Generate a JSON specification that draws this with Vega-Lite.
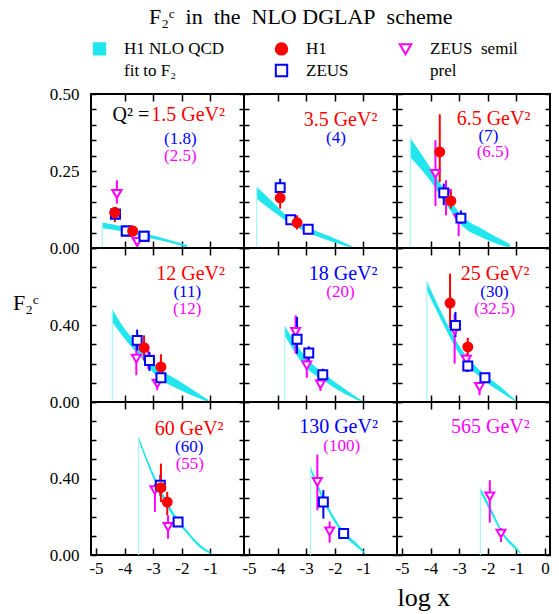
{
 "$schema": "https://vega.github.io/schema/vega-lite/v6.json",
 "padding": {"left": 11, "top": 6, "right": 2, "bottom": 2},
 "background": "white",
 "title": {"text": "F₂ᶜ\u00a0\u00a0in\u00a0\u00a0the\u00a0\u00a0NLO DGLAP\u00a0\u00a0scheme", "font": "Liberation Serif", "fontSize": 22, "fontWeight": "normal", "color": "black", "anchor": "start", "frame": "group", "dx": 58, "offset": 11},
 "datasets": {
  "band": [
   {"p":1,"x":-4.78,"lo":0.064,"hi":0.083},{"p":1,"x":-4.0,"lo":0.052,"hi":0.068},{"p":1,"x":-3.45,"lo":0.038,"hi":0.05},{"p":1,"x":-2.9,"lo":0.028,"hi":0.038},{"p":1,"x":-2.4,"lo":0.017,"hi":0.025},{"p":1,"x":-1.82,"lo":0.002,"hi":0.01},
   {"p":2,"x":-4.73,"lo":0.16,"hi":0.198},{"p":2,"x":-4.2,"lo":0.122,"hi":0.152},{"p":2,"x":-3.62,"lo":0.084,"hi":0.1},{"p":2,"x":-2.85,"lo":0.046,"hi":0.063},{"p":2,"x":-1.98,"lo":0.017,"hi":0.03},{"p":2,"x":-1.38,"lo":0.0,"hi":0.005},
   {"p":3,"x":-4.71,"lo":0.295,"hi":0.357},{"p":3,"x":-4.06,"lo":0.225,"hi":0.268},{"p":3,"x":-3.51,"lo":0.149,"hi":0.187},{"p":3,"x":-2.97,"lo":0.079,"hi":0.111},{"p":3,"x":-2.1,"lo":0.03,"hi":0.057},{"p":3,"x":-1.23,"lo":0.0,"hi":0.013},
   {"p":4,"x":-4.43,"lo":0.416,"hi":0.482},{"p":4,"x":-4.0,"lo":0.329,"hi":0.381},{"p":4,"x":-3.45,"lo":0.234,"hi":0.286},{"p":4,"x":-2.91,"lo":0.139,"hi":0.19},{"p":4,"x":-2.04,"lo":0.061,"hi":0.104},{"p":4,"x":-1.07,"lo":0.0,"hi":0.01},
   {"p":5,"x":-3.75,"lo":0.346,"hi":0.395},{"p":5,"x":-3.02,"lo":0.182,"hi":0.234},{"p":5,"x":-2.31,"lo":0.104,"hi":0.139},{"p":5,"x":-1.66,"lo":0.043,"hi":0.069},{"p":5,"x":-1.06,"lo":0.0,"hi":0.008},
   {"p":6,"x":-4.13,"lo":0.58,"hi":0.627},{"p":6,"x":-3.51,"lo":0.39,"hi":0.433},{"p":6,"x":-2.97,"lo":0.243,"hi":0.286},{"p":6,"x":-2.21,"lo":0.121,"hi":0.156},{"p":6,"x":-1.55,"lo":0.052,"hi":0.078},{"p":6,"x":-1.0,"lo":0.0,"hi":0.005},
   {"p":7,"x":-3.51,"lo":0.6,"hi":0.62},{"p":7,"x":-3.02,"lo":0.408,"hi":0.435},{"p":7,"x":-2.37,"lo":0.216,"hi":0.242},{"p":7,"x":-1.82,"lo":0.112,"hi":0.129},{"p":7,"x":-1.39,"lo":0.042,"hi":0.059},{"p":7,"x":-1.0,"lo":0.005,"hi":0.015},
   {"p":8,"x":-2.85,"lo":0.44,"hi":0.464},{"p":8,"x":-2.31,"lo":0.251,"hi":0.277},{"p":8,"x":-1.76,"lo":0.117,"hi":0.138},{"p":8,"x":-1.11,"lo":0.026,"hi":0.042},{"p":8,"x":-0.95,"lo":0.005,"hi":0.015},
   {"p":9,"x":-2.26,"lo":0.33,"hi":0.351},{"p":9,"x":-1.88,"lo":0.216,"hi":0.242},{"p":9,"x":-1.44,"lo":0.094,"hi":0.112},{"p":9,"x":-1.01,"lo":0.026,"hi":0.042},{"p":9,"x":-0.85,"lo":0.005,"hi":0.012}
  ],
  "pts": [
   {"p":1,"exp":"semil","x":-4.27,"y":0.176,"lo":0.144,"hi":0.22},{"p":1,"exp":"semil","x":-3.56,"y":0.02,"lo":0.006,"hi":0.034},
   {"p":1,"exp":"ZEUS","x":-4.32,"y":0.11,"lo":0.1,"hi":0.12},{"p":1,"exp":"ZEUS","x":-3.94,"y":0.055,"lo":0.048,"hi":0.062},{"p":1,"exp":"ZEUS","x":-3.32,"y":0.038,"lo":0.031,"hi":0.045},
   {"p":1,"exp":"H1","x":-4.34,"y":0.115,"lo":0.084,"hi":0.133},{"p":1,"exp":"H1","x":-3.72,"y":0.055,"lo":0.045,"hi":0.065},
   {"p":2,"exp":"ZEUS","x":-3.91,"y":0.196,"lo":0.171,"hi":0.225},{"p":2,"exp":"ZEUS","x":-3.54,"y":0.092,"lo":0.08,"hi":0.104},{"p":2,"exp":"ZEUS","x":-2.93,"y":0.061,"lo":0.053,"hi":0.069},
   {"p":2,"exp":"H1","x":-3.91,"y":0.163,"lo":0.128,"hi":0.193},{"p":2,"exp":"H1","x":-3.32,"y":0.082,"lo":0.06,"hi":0.106},
   {"p":3,"exp":"semil","x":-3.83,"y":0.241,"lo":0.136,"hi":0.35},{"p":3,"exp":"semil","x":-3.46,"y":0.176,"lo":0.106,"hi":0.22},{"p":3,"exp":"semil","x":-3.02,"y":0.095,"lo":0.039,"hi":0.111},
   {"p":3,"exp":"ZEUS","x":-3.54,"y":0.179,"lo":0.139,"hi":0.209},{"p":3,"exp":"ZEUS","x":-2.94,"y":0.097,"lo":0.079,"hi":0.122},
   {"p":3,"exp":"H1","x":-3.68,"y":0.312,"lo":0.214,"hi":0.434},{"p":3,"exp":"H1","x":-3.29,"y":0.153,"lo":0.128,"hi":0.187},
   {"p":4,"exp":"semil","x":-3.59,"y":0.225,"lo":0.139,"hi":0.303},{"p":4,"exp":"semil","x":-3.17,"y":0.22,"lo":0.17,"hi":0.29},{"p":4,"exp":"semil","x":-2.86,"y":0.095,"lo":0.061,"hi":0.121},
   {"p":4,"exp":"ZEUS","x":-3.56,"y":0.32,"lo":0.268,"hi":0.376},{"p":4,"exp":"ZEUS","x":-3.13,"y":0.216,"lo":0.161,"hi":0.26},{"p":4,"exp":"ZEUS","x":-2.73,"y":0.126,"lo":0.11,"hi":0.142},
   {"p":4,"exp":"H1","x":-3.32,"y":0.282,"lo":0.217,"hi":0.346},{"p":4,"exp":"H1","x":-2.73,"y":0.182,"lo":0.121,"hi":0.248},
   {"p":5,"exp":"semil","x":-3.37,"y":0.364,"lo":0.251,"hi":0.45},{"p":5,"exp":"semil","x":-2.98,"y":0.19,"lo":0.126,"hi":0.251},{"p":5,"exp":"semil","x":-2.5,"y":0.092,"lo":0.057,"hi":0.121},
   {"p":5,"exp":"ZEUS","x":-3.32,"y":0.326,"lo":0.251,"hi":0.442},{"p":5,"exp":"ZEUS","x":-2.91,"y":0.255,"lo":0.208,"hi":0.289},{"p":5,"exp":"ZEUS","x":-2.42,"y":0.142,"lo":0.113,"hi":0.173},
   {"p":6,"exp":"semil","x":-3.16,"y":0.372,"lo":0.199,"hi":0.459},{"p":6,"exp":"semil","x":-2.75,"y":0.22,"lo":0.156,"hi":0.251},{"p":6,"exp":"semil","x":-2.29,"y":0.078,"lo":0.035,"hi":0.104},
   {"p":6,"exp":"ZEUS","x":-3.13,"y":0.398,"lo":0.338,"hi":0.468},{"p":6,"exp":"ZEUS","x":-2.7,"y":0.187,"lo":0.156,"hi":0.217},{"p":6,"exp":"ZEUS","x":-2.1,"y":0.126,"lo":0.11,"hi":0.142},
   {"p":6,"exp":"H1","x":-3.32,"y":0.514,"lo":0.386,"hi":0.667},{"p":6,"exp":"H1","x":-2.7,"y":0.286,"lo":0.234,"hi":0.334},
   {"p":7,"exp":"semil","x":-2.94,"y":0.339,"lo":0.225,"hi":0.373},{"p":7,"exp":"semil","x":-2.48,"y":0.147,"lo":0.085,"hi":0.208},
   {"p":7,"exp":"ZEUS","x":-2.75,"y":0.365,"lo":0.31,"hi":0.42},{"p":7,"exp":"ZEUS","x":-2.13,"y":0.173,"lo":0.16,"hi":0.186},
   {"p":7,"exp":"H1","x":-2.73,"y":0.352,"lo":0.277,"hi":0.478},{"p":7,"exp":"H1","x":-2.51,"y":0.277,"lo":0.208,"hi":0.33},
   {"p":8,"exp":"semil","x":-2.61,"y":0.382,"lo":0.234,"hi":0.525},{"p":8,"exp":"semil","x":-2.18,"y":0.124,"lo":0.064,"hi":0.176},
   {"p":8,"exp":"ZEUS","x":-2.4,"y":0.277,"lo":0.19,"hi":0.339},{"p":8,"exp":"ZEUS","x":-1.69,"y":0.112,"lo":0.1,"hi":0.124},
   {"p":9,"exp":"semil","x":-1.93,"y":0.307,"lo":0.169,"hi":0.391},{"p":9,"exp":"semil","x":-1.54,"y":0.112,"lo":0.068,"hi":0.141}
  ],
  "lab": [
   {"p":1,"exp":"Q","kind":"main","t":"Q² =","x":-3.78,"y":0.432},{"p":1,"exp":"H1","kind":"main","t":"1.5 GeV²","x":-1.78,"y":0.432},{"p":1,"exp":"ZEUS","kind":"sub","t":"(1.8)","x":-2.05,"y":0.355},{"p":1,"exp":"semil","kind":"sub","t":"(2.5)","x":-2.05,"y":0.3},
   {"p":2,"exp":"H1","kind":"main","t":"3.5 GeV²","x":-1.8,"y":0.415},{"p":2,"exp":"ZEUS","kind":"sub","t":"(4)","x":-1.96,"y":0.358},
   {"p":3,"exp":"H1","kind":"main","t":"6.5 GeV²","x":-1.8,"y":0.418},{"p":3,"exp":"ZEUS","kind":"sub","t":"(7)","x":-1.98,"y":0.364},{"p":3,"exp":"semil","kind":"sub","t":"(6.5)","x":-1.82,"y":0.313},
   {"p":4,"exp":"H1","kind":"main","t":"12 GeV²","x":-1.69,"y":0.667},{"p":4,"exp":"ZEUS","kind":"sub","t":"(11)","x":-1.81,"y":0.573},{"p":4,"exp":"semil","kind":"sub","t":"(12)","x":-1.81,"y":0.483},
   {"p":5,"exp":"ZEUS","kind":"main","t":"18 GeV²","x":-1.71,"y":0.667},{"p":5,"exp":"semil","kind":"sub","t":"(20)","x":-1.8,"y":0.573},
   {"p":6,"exp":"H1","kind":"main","t":"25 GeV²","x":-1.74,"y":0.667},{"p":6,"exp":"ZEUS","kind":"sub","t":"(30)","x":-1.77,"y":0.573},{"p":6,"exp":"semil","kind":"sub","t":"(32.5)","x":-1.76,"y":0.483},
   {"p":7,"exp":"H1","kind":"main","t":"60 GeV²","x":-1.74,"y":0.661},{"p":7,"exp":"ZEUS","kind":"sub","t":"(60)","x":-1.74,"y":0.567},{"p":7,"exp":"semil","kind":"sub","t":"(55)","x":-1.72,"y":0.476},
   {"p":8,"exp":"ZEUS","kind":"main","t":"130 GeV²","x":-1.87,"y":0.67},{"p":8,"exp":"semil","kind":"sub","t":"(100)","x":-1.76,"y":0.569},
   {"p":9,"exp":"semil","kind":"main","t":"565 GeV²","x":-1.91,"y":0.67}
  ]
 },
 "columns": 3,
 "spacing": 0,
 "bounds": "flush",
 "concat": [
  {"width":153,"height":154,"resolve":{"axis":{"x":"independent","y":"independent"}},"layer":[
   {"data":{"name":"band"},"transform":[{"filter":"datum.p==1"}],"mark":{"type":"area","color":"#22e6ee","opacity":1,"interpolate":"monotone"},
    "encoding":{"x":{"field":"x","type":"quantitative","scale":{"domain":[-5,0],"nice":false,"zero":false},"axis":{"orient":"bottom","values":[-4,-3,-2,-1],"labels":false,"tickSize":-7,"title":null}},
     "y":{"field":"lo","type":"quantitative","scale":{"domain":[0,0.5],"nice":false},"axis":{"orient":"left","values":[0,0.05,0.1,0.15,0.2,0.25,0.3,0.35,0.4,0.45,0.5],"tickSize":-5,"labelPadding":17,"labelExpr":"(datum.value==0||datum.value==0.25||datum.value==0.5)?format(datum.value,'.2f'):''","title":null}},
     "y2":{"field":"hi"}}},
   {"data":{"name":"band"},"transform":[{"filter":"datum.p==1"},{"aggregate":[{"op":"min","field":"x","as":"x"},{"op":"max","field":"hi","as":"hi"}]}],"mark":{"type":"bar","color":"#a8f4f7","width":1.2},
    "encoding":{"x":{"field":"x","type":"quantitative","axis":null},"y":{"field":"hi","type":"quantitative","axis":null}}},
   {"data":{"name":"pts"},"transform":[{"filter":"datum.p==1"}],"mark":{"type":"point","size":80,"strokeWidth":2,"opacity":1},
    "encoding":{"x":{"field":"x","type":"quantitative","axis":null},"y":{"field":"y","type":"quantitative","axis":null},
     "stroke":{"field":"exp","type":"nominal","scale":{"domain":["NLO","H1","semil","fit","ZEUS","prel"],"range":["#22e6ee","#ff0000","#ff00ff","transparent","#0000ff","transparent"]},
      "legend":{"title":null,"orient":"top","offset":3,"padding":0,"columns":3,"columnPadding":46,"rowPadding":1,"labelFont":"Liberation Serif","labelFontSize":17,"labelColor":"black","labelOffset":16,"symbolSize":130,"symbolStrokeWidth":2,"labelLimit":300,
       "labelExpr":"datum.label=='NLO' ? 'H1 NLO QCD' : datum.label=='semil' ? 'ZEUS\u00a0\u00a0semil' : datum.label=='ZEUS' ? 'ZEUS\u00a0\u00a0\u00a0\u00a0' : datum.label=='fit' ? '\u00a0\u00a0\u00a0fit to F₂' : datum.label=='prel' ? '\u00a0\u00a0\u00a0\u00a0\u00a0\u00a0\u00a0\u00a0\u00a0prel' : datum.label",
       "encode":{"symbols":{"update":{"size":{"signal":"datum.value=='NLO' ? 200 : 130"},"strokeWidth":{"value":2}}},"labels":{"update":{"fontSize":{"signal":"datum.value=='fit' ? 13 : 17"},"font":{"value":"Liberation Serif"}}}}}},
     "fill":{"field":"exp","type":"nominal","scale":{"domain":["NLO","H1","semil","fit","ZEUS","prel"],"range":["#22e6ee","#ff0000","white","transparent","white","transparent"]},
      "legend":{"title":null,"orient":"top","offset":3,"padding":0,"columns":3,"columnPadding":46,"rowPadding":1,"labelFont":"Liberation Serif","labelFontSize":17,"labelColor":"black","labelOffset":16,"symbolSize":130,"symbolStrokeWidth":2,"labelLimit":300,
       "labelExpr":"datum.label=='NLO' ? 'H1 NLO QCD' : datum.label=='semil' ? 'ZEUS\u00a0\u00a0semil' : datum.label=='ZEUS' ? 'ZEUS\u00a0\u00a0\u00a0\u00a0' : datum.label=='fit' ? '\u00a0\u00a0\u00a0fit to F₂' : datum.label=='prel' ? '\u00a0\u00a0\u00a0\u00a0\u00a0\u00a0\u00a0\u00a0\u00a0prel' : datum.label",
       "encode":{"symbols":{"update":{"size":{"signal":"datum.value=='NLO' ? 200 : 130"},"strokeWidth":{"value":2}}},"labels":{"update":{"fontSize":{"signal":"datum.value=='fit' ? 13 : 17"},"font":{"value":"Liberation Serif"}}}}}},
     "shape":{"field":"exp","type":"nominal","scale":{"domain":["NLO","H1","semil","fit","ZEUS","prel"],"range":["square","circle","triangle-down","square","square","square"]},
      "legend":{"title":null,"orient":"top","offset":3,"padding":0,"columns":3,"columnPadding":46,"rowPadding":1,"labelFont":"Liberation Serif","labelFontSize":17,"labelColor":"black","labelOffset":16,"symbolSize":130,"symbolStrokeWidth":2,"labelLimit":300,
       "labelExpr":"datum.label=='NLO' ? 'H1 NLO QCD' : datum.label=='semil' ? 'ZEUS\u00a0\u00a0semil' : datum.label=='ZEUS' ? 'ZEUS\u00a0\u00a0\u00a0\u00a0' : datum.label=='fit' ? '\u00a0\u00a0\u00a0fit to F₂' : datum.label=='prel' ? '\u00a0\u00a0\u00a0\u00a0\u00a0\u00a0\u00a0\u00a0\u00a0prel' : datum.label",
       "encode":{"symbols":{"update":{"size":{"signal":"datum.value=='NLO' ? 200 : 130"},"strokeWidth":{"value":2}}},"labels":{"update":{"fontSize":{"signal":"datum.value=='fit' ? 13 : 17"},"font":{"value":"Liberation Serif"}}}}}}}},
   {"data":{"name":"pts"},"transform":[{"filter":"datum.p==1"}],"mark":{"type":"rule","strokeWidth":2},
    "encoding":{"x":{"field":"x","type":"quantitative","axis":{"orient":"top","values":[-4,-3,-2,-1],"labels":false,"tickSize":-7,"title":null}},"y":{"field":"lo","type":"quantitative","axis":{"orient":"right","values":[0,0.05,0.1,0.15,0.2,0.25,0.3,0.35,0.4,0.45,0.5],"labels":false,"tickSize":-5,"title":null}},"y2":{"field":"hi"},"stroke":{"field":"exp","type":"nominal"}}},
   {"data":{"name":"pts"},"transform":[{"filter":"datum.p==1"}],"mark":{"type":"point","size":80,"strokeWidth":2,"opacity":1},
    "encoding":{"x":{"field":"x","type":"quantitative","axis":null},"y":{"field":"y","type":"quantitative","axis":null},"stroke":{"field":"exp","type":"nominal"},"fill":{"field":"exp","type":"nominal"},"shape":{"field":"exp","type":"nominal"}}},
   {"data":{"name":"lab"},"transform":[{"filter":"datum.p==1"}],"mark":{"type":"text","baseline":"middle","align":"center","font":"Liberation Serif"},
    "encoding":{"x":{"field":"x","type":"quantitative","axis":null},"y":{"field":"y","type":"quantitative","axis":null},"text":{"field":"t"},
     "color":{"field":"exp","type":"nominal","scale":{"domain":["Q","H1","ZEUS","semil"],"range":["black","#ff0000","#0000ff","#ff00ff"]},"legend":null},
     "size":{"field":"kind","type":"ordinal","scale":{"domain":["main","sub"],"range":[20,17]},"legend":null}}}
  ]},
  {"width":153,"height":154,"resolve":{"axis":{"x":"independent","y":"independent"}},"layer":[
   {"data":{"name":"band"},"transform":[{"filter":"datum.p==2"}],"mark":{"type":"area","color":"#22e6ee","opacity":1,"interpolate":"monotone"},
    "encoding":{"x":{"field":"x","type":"quantitative","scale":{"domain":[-5,0],"nice":false,"zero":false},"axis":{"orient":"bottom","values":[-4,-3,-2,-1],"labels":false,"tickSize":-7,"title":null}},
     "y":{"field":"lo","type":"quantitative","scale":{"domain":[0,0.5],"nice":false},"axis":{"orient":"left","values":[0,0.05,0.1,0.15,0.2,0.25,0.3,0.35,0.4,0.45,0.5],"labels":false,"tickSize":-5,"title":null}},
     "y2":{"field":"hi"}}},
   {"data":{"name":"band"},"transform":[{"filter":"datum.p==2"},{"aggregate":[{"op":"min","field":"x","as":"x"},{"op":"max","field":"hi","as":"hi"}]}],"mark":{"type":"bar","color":"#a8f4f7","width":1.2},
    "encoding":{"x":{"field":"x","type":"quantitative","axis":null},"y":{"field":"hi","type":"quantitative","axis":null}}},
   {"data":{"name":"pts"},"transform":[{"filter":"datum.p==2"}],"mark":{"type":"rule","strokeWidth":2},
    "encoding":{"x":{"field":"x","type":"quantitative","axis":{"orient":"top","values":[-4,-3,-2,-1],"labels":false,"tickSize":-7,"title":null}},"y":{"field":"lo","type":"quantitative","axis":{"orient":"right","values":[0,0.05,0.1,0.15,0.2,0.25,0.3,0.35,0.4,0.45,0.5],"labels":false,"tickSize":-5,"title":null}},"y2":{"field":"hi"},"stroke":{"field":"exp","type":"nominal"}}},
   {"data":{"name":"pts"},"transform":[{"filter":"datum.p==2"}],"mark":{"type":"point","size":80,"strokeWidth":2,"opacity":1},
    "encoding":{"x":{"field":"x","type":"quantitative","axis":null},"y":{"field":"y","type":"quantitative","axis":null},"stroke":{"field":"exp","type":"nominal"},"fill":{"field":"exp","type":"nominal"},"shape":{"field":"exp","type":"nominal"}}},
   {"data":{"name":"lab"},"transform":[{"filter":"datum.p==2"}],"mark":{"type":"text","baseline":"middle","align":"center","font":"Liberation Serif"},
    "encoding":{"x":{"field":"x","type":"quantitative","axis":null},"y":{"field":"y","type":"quantitative","axis":null},"text":{"field":"t"},"color":{"field":"exp","type":"nominal","legend":null},"size":{"field":"kind","type":"ordinal","legend":null}}}
  ]},
  {"width":153,"height":154,"resolve":{"axis":{"x":"independent","y":"independent"}},"layer":[
   {"data":{"name":"band"},"transform":[{"filter":"datum.p==3"}],"mark":{"type":"area","color":"#22e6ee","opacity":1,"interpolate":"monotone"},
    "encoding":{"x":{"field":"x","type":"quantitative","scale":{"domain":[-5,0],"nice":false,"zero":false},"axis":{"orient":"bottom","values":[-4,-3,-2,-1],"labels":false,"tickSize":-7,"title":null}},
     "y":{"field":"lo","type":"quantitative","scale":{"domain":[0,0.5],"nice":false},"axis":{"orient":"left","values":[0,0.05,0.1,0.15,0.2,0.25,0.3,0.35,0.4,0.45,0.5],"labels":false,"tickSize":-5,"title":null}},
     "y2":{"field":"hi"}}},
   {"data":{"name":"band"},"transform":[{"filter":"datum.p==3"},{"aggregate":[{"op":"min","field":"x","as":"x"},{"op":"max","field":"hi","as":"hi"}]}],"mark":{"type":"bar","color":"#a8f4f7","width":1.2},
    "encoding":{"x":{"field":"x","type":"quantitative","axis":null},"y":{"field":"hi","type":"quantitative","axis":null}}},
   {"data":{"name":"pts"},"transform":[{"filter":"datum.p==3"}],"mark":{"type":"rule","strokeWidth":2},
    "encoding":{"x":{"field":"x","type":"quantitative","axis":{"orient":"top","values":[-4,-3,-2,-1],"labels":false,"tickSize":-7,"title":null}},"y":{"field":"lo","type":"quantitative","axis":{"orient":"right","values":[0,0.05,0.1,0.15,0.2,0.25,0.3,0.35,0.4,0.45,0.5],"labels":false,"tickSize":-5,"title":null}},"y2":{"field":"hi"},"stroke":{"field":"exp","type":"nominal"}}},
   {"data":{"name":"pts"},"transform":[{"filter":"datum.p==3"}],"mark":{"type":"point","size":80,"strokeWidth":2,"opacity":1},
    "encoding":{"x":{"field":"x","type":"quantitative","axis":null},"y":{"field":"y","type":"quantitative","axis":null},"stroke":{"field":"exp","type":"nominal"},"fill":{"field":"exp","type":"nominal"},"shape":{"field":"exp","type":"nominal"}}},
   {"data":{"name":"lab"},"transform":[{"filter":"datum.p==3"}],"mark":{"type":"text","baseline":"middle","align":"center","font":"Liberation Serif"},
    "encoding":{"x":{"field":"x","type":"quantitative","axis":null},"y":{"field":"y","type":"quantitative","axis":null},"text":{"field":"t"},"color":{"field":"exp","type":"nominal","legend":null},"size":{"field":"kind","type":"ordinal","legend":null}}}
  ]},
  {"width":153,"height":154,"resolve":{"axis":{"x":"independent","y":"independent"}},"layer":[
   {"data":{"name":"band"},"transform":[{"filter":"datum.p==4"}],"mark":{"type":"area","color":"#22e6ee","opacity":1,"interpolate":"monotone"},
    "encoding":{"x":{"field":"x","type":"quantitative","scale":{"domain":[-5,0],"nice":false,"zero":false},"axis":{"orient":"bottom","values":[-4,-3,-2,-1],"labels":false,"tickSize":-7,"title":null}},
     "y":{"field":"lo","type":"quantitative","scale":{"domain":[0,0.8],"nice":false},"axis":{"orient":"left","values":[0,0.1,0.2,0.3,0.4,0.5,0.6,0.7,0.8],"tickSize":-5,"labelPadding":17,"labelExpr":"(datum.value==0||datum.value==0.4)?format(datum.value,'.2f'):''","title":"F₂ᶜ","titleAngle":0,"titleFontSize":22,"titleAlign":"center","titleBaseline":"middle","titleY":54,"titlePadding":24}},
     "y2":{"field":"hi"}}},
   {"data":{"name":"band"},"transform":[{"filter":"datum.p==4"},{"aggregate":[{"op":"min","field":"x","as":"x"},{"op":"max","field":"hi","as":"hi"}]}],"mark":{"type":"bar","color":"#a8f4f7","width":1.2},
    "encoding":{"x":{"field":"x","type":"quantitative","axis":null},"y":{"field":"hi","type":"quantitative","axis":null}}},
   {"data":{"name":"pts"},"transform":[{"filter":"datum.p==4"}],"mark":{"type":"rule","strokeWidth":2},
    "encoding":{"x":{"field":"x","type":"quantitative","axis":{"orient":"top","values":[-4,-3,-2,-1],"labels":false,"tickSize":-7,"title":null}},"y":{"field":"lo","type":"quantitative","axis":{"orient":"right","values":[0,0.1,0.2,0.3,0.4,0.5,0.6,0.7,0.8],"labels":false,"tickSize":-5,"title":null}},"y2":{"field":"hi"},"stroke":{"field":"exp","type":"nominal"}}},
   {"data":{"name":"pts"},"transform":[{"filter":"datum.p==4"}],"mark":{"type":"point","size":80,"strokeWidth":2,"opacity":1},
    "encoding":{"x":{"field":"x","type":"quantitative","axis":null},"y":{"field":"y","type":"quantitative","axis":null},"stroke":{"field":"exp","type":"nominal"},"fill":{"field":"exp","type":"nominal"},"shape":{"field":"exp","type":"nominal"}}},
   {"data":{"name":"lab"},"transform":[{"filter":"datum.p==4"}],"mark":{"type":"text","baseline":"middle","align":"center","font":"Liberation Serif"},
    "encoding":{"x":{"field":"x","type":"quantitative","axis":null},"y":{"field":"y","type":"quantitative","axis":null},"text":{"field":"t"},"color":{"field":"exp","type":"nominal","legend":null},"size":{"field":"kind","type":"ordinal","legend":null}}}
  ]},
  {"width":153,"height":154,"resolve":{"axis":{"x":"independent","y":"independent"}},"layer":[
   {"data":{"name":"band"},"transform":[{"filter":"datum.p==5"}],"mark":{"type":"area","color":"#22e6ee","opacity":1,"interpolate":"monotone"},
    "encoding":{"x":{"field":"x","type":"quantitative","scale":{"domain":[-5,0],"nice":false,"zero":false},"axis":{"orient":"bottom","values":[-4,-3,-2,-1],"labels":false,"tickSize":-7,"title":null}},
     "y":{"field":"lo","type":"quantitative","scale":{"domain":[0,0.8],"nice":false},"axis":{"orient":"left","values":[0,0.1,0.2,0.3,0.4,0.5,0.6,0.7,0.8],"labels":false,"tickSize":-5,"title":null}},
     "y2":{"field":"hi"}}},
   {"data":{"name":"band"},"transform":[{"filter":"datum.p==5"},{"aggregate":[{"op":"min","field":"x","as":"x"},{"op":"max","field":"hi","as":"hi"}]}],"mark":{"type":"bar","color":"#a8f4f7","width":1.2},
    "encoding":{"x":{"field":"x","type":"quantitative","axis":null},"y":{"field":"hi","type":"quantitative","axis":null}}},
   {"data":{"name":"pts"},"transform":[{"filter":"datum.p==5"}],"mark":{"type":"rule","strokeWidth":2},
    "encoding":{"x":{"field":"x","type":"quantitative","axis":{"orient":"top","values":[-4,-3,-2,-1],"labels":false,"tickSize":-7,"title":null}},"y":{"field":"lo","type":"quantitative","axis":{"orient":"right","values":[0,0.1,0.2,0.3,0.4,0.5,0.6,0.7,0.8],"labels":false,"tickSize":-5,"title":null}},"y2":{"field":"hi"},"stroke":{"field":"exp","type":"nominal"}}},
   {"data":{"name":"pts"},"transform":[{"filter":"datum.p==5"}],"mark":{"type":"point","size":80,"strokeWidth":2,"opacity":1},
    "encoding":{"x":{"field":"x","type":"quantitative","axis":null},"y":{"field":"y","type":"quantitative","axis":null},"stroke":{"field":"exp","type":"nominal"},"fill":{"field":"exp","type":"nominal"},"shape":{"field":"exp","type":"nominal"}}},
   {"data":{"name":"lab"},"transform":[{"filter":"datum.p==5"}],"mark":{"type":"text","baseline":"middle","align":"center","font":"Liberation Serif"},
    "encoding":{"x":{"field":"x","type":"quantitative","axis":null},"y":{"field":"y","type":"quantitative","axis":null},"text":{"field":"t"},"color":{"field":"exp","type":"nominal","legend":null},"size":{"field":"kind","type":"ordinal","legend":null}}}
  ]},
  {"width":153,"height":154,"resolve":{"axis":{"x":"independent","y":"independent"}},"layer":[
   {"data":{"name":"band"},"transform":[{"filter":"datum.p==6"}],"mark":{"type":"area","color":"#22e6ee","opacity":1,"interpolate":"monotone"},
    "encoding":{"x":{"field":"x","type":"quantitative","scale":{"domain":[-5,0],"nice":false,"zero":false},"axis":{"orient":"bottom","values":[-4,-3,-2,-1],"labels":false,"tickSize":-7,"title":null}},
     "y":{"field":"lo","type":"quantitative","scale":{"domain":[0,0.8],"nice":false},"axis":{"orient":"left","values":[0,0.1,0.2,0.3,0.4,0.5,0.6,0.7,0.8],"labels":false,"tickSize":-5,"title":null}},
     "y2":{"field":"hi"}}},
   {"data":{"name":"band"},"transform":[{"filter":"datum.p==6"},{"aggregate":[{"op":"min","field":"x","as":"x"},{"op":"max","field":"hi","as":"hi"}]}],"mark":{"type":"bar","color":"#a8f4f7","width":1.2},
    "encoding":{"x":{"field":"x","type":"quantitative","axis":null},"y":{"field":"hi","type":"quantitative","axis":null}}},
   {"data":{"name":"pts"},"transform":[{"filter":"datum.p==6"}],"mark":{"type":"rule","strokeWidth":2},
    "encoding":{"x":{"field":"x","type":"quantitative","axis":{"orient":"top","values":[-4,-3,-2,-1],"labels":false,"tickSize":-7,"title":null}},"y":{"field":"lo","type":"quantitative","axis":{"orient":"right","values":[0,0.1,0.2,0.3,0.4,0.5,0.6,0.7,0.8],"labels":false,"tickSize":-5,"title":null}},"y2":{"field":"hi"},"stroke":{"field":"exp","type":"nominal"}}},
   {"data":{"name":"pts"},"transform":[{"filter":"datum.p==6"}],"mark":{"type":"point","size":80,"strokeWidth":2,"opacity":1},
    "encoding":{"x":{"field":"x","type":"quantitative","axis":null},"y":{"field":"y","type":"quantitative","axis":null},"stroke":{"field":"exp","type":"nominal"},"fill":{"field":"exp","type":"nominal"},"shape":{"field":"exp","type":"nominal"}}},
   {"data":{"name":"lab"},"transform":[{"filter":"datum.p==6"}],"mark":{"type":"text","baseline":"middle","align":"center","font":"Liberation Serif"},
    "encoding":{"x":{"field":"x","type":"quantitative","axis":null},"y":{"field":"y","type":"quantitative","axis":null},"text":{"field":"t"},"color":{"field":"exp","type":"nominal","legend":null},"size":{"field":"kind","type":"ordinal","legend":null}}}
  ]},
  {"width":153,"height":153,"resolve":{"axis":{"x":"independent","y":"independent"}},"layer":[
   {"data":{"name":"band"},"transform":[{"filter":"datum.p==7"}],"mark":{"type":"area","color":"#22e6ee","opacity":1,"interpolate":"monotone"},
    "encoding":{"x":{"field":"x","type":"quantitative","scale":{"domain":[-5,0],"nice":false,"zero":false},"axis":{"orient":"bottom","values":[-5,-4,-3,-2,-1],"tickSize":-7,"labelPadding":12,"labelExpr":"toString(datum.value)","title":null}},
     "y":{"field":"lo","type":"quantitative","scale":{"domain":[0,0.8],"nice":false},"axis":{"orient":"left","values":[0,0.1,0.2,0.3,0.4,0.5,0.6,0.7,0.8],"tickSize":-5,"labelPadding":17,"labelExpr":"(datum.value==0||datum.value==0.4)?format(datum.value,'.2f'):''","title":null}},
     "y2":{"field":"hi"}}},
   {"data":{"name":"band"},"transform":[{"filter":"datum.p==7"},{"aggregate":[{"op":"min","field":"x","as":"x"},{"op":"max","field":"hi","as":"hi"}]}],"mark":{"type":"bar","color":"#a8f4f7","width":1.2},
    "encoding":{"x":{"field":"x","type":"quantitative","axis":null},"y":{"field":"hi","type":"quantitative","axis":null}}},
   {"data":{"name":"pts"},"transform":[{"filter":"datum.p==7"}],"mark":{"type":"rule","strokeWidth":2},
    "encoding":{"x":{"field":"x","type":"quantitative","axis":{"orient":"top","values":[-4,-3,-2,-1],"labels":false,"tickSize":-7,"title":null}},"y":{"field":"lo","type":"quantitative","axis":{"orient":"right","values":[0,0.1,0.2,0.3,0.4,0.5,0.6,0.7,0.8],"labels":false,"tickSize":-5,"title":null}},"y2":{"field":"hi"},"stroke":{"field":"exp","type":"nominal"}}},
   {"data":{"name":"pts"},"transform":[{"filter":"datum.p==7"}],"mark":{"type":"point","size":80,"strokeWidth":2,"opacity":1},
    "encoding":{"x":{"field":"x","type":"quantitative","axis":null},"y":{"field":"y","type":"quantitative","axis":null},"stroke":{"field":"exp","type":"nominal"},"fill":{"field":"exp","type":"nominal"},"shape":{"field":"exp","type":"nominal"}}},
   {"data":{"name":"lab"},"transform":[{"filter":"datum.p==7"}],"mark":{"type":"text","baseline":"middle","align":"center","font":"Liberation Serif"},
    "encoding":{"x":{"field":"x","type":"quantitative","axis":null},"y":{"field":"y","type":"quantitative","axis":null},"text":{"field":"t"},"color":{"field":"exp","type":"nominal","legend":null},"size":{"field":"kind","type":"ordinal","legend":null}}}
  ]},
  {"width":153,"height":153,"resolve":{"axis":{"x":"independent","y":"independent"}},"layer":[
   {"data":{"name":"band"},"transform":[{"filter":"datum.p==8"}],"mark":{"type":"area","color":"#22e6ee","opacity":1,"interpolate":"monotone"},
    "encoding":{"x":{"field":"x","type":"quantitative","scale":{"domain":[-5,0],"nice":false,"zero":false},"axis":{"orient":"bottom","values":[-5,-4,-3,-2,-1],"tickSize":-7,"labelPadding":12,"labelExpr":"toString(datum.value)","title":null}},
     "y":{"field":"lo","type":"quantitative","scale":{"domain":[0,0.8],"nice":false},"axis":{"orient":"left","values":[0,0.1,0.2,0.3,0.4,0.5,0.6,0.7,0.8],"labels":false,"tickSize":-5,"title":null}},
     "y2":{"field":"hi"}}},
   {"data":{"name":"band"},"transform":[{"filter":"datum.p==8"},{"aggregate":[{"op":"min","field":"x","as":"x"},{"op":"max","field":"hi","as":"hi"}]}],"mark":{"type":"bar","color":"#a8f4f7","width":1.2},
    "encoding":{"x":{"field":"x","type":"quantitative","axis":null},"y":{"field":"hi","type":"quantitative","axis":null}}},
   {"data":{"name":"pts"},"transform":[{"filter":"datum.p==8"}],"mark":{"type":"rule","strokeWidth":2},
    "encoding":{"x":{"field":"x","type":"quantitative","axis":{"orient":"top","values":[-4,-3,-2,-1],"labels":false,"tickSize":-7,"title":null}},"y":{"field":"lo","type":"quantitative","axis":{"orient":"right","values":[0,0.1,0.2,0.3,0.4,0.5,0.6,0.7,0.8],"labels":false,"tickSize":-5,"title":null}},"y2":{"field":"hi"},"stroke":{"field":"exp","type":"nominal"}}},
   {"data":{"name":"pts"},"transform":[{"filter":"datum.p==8"}],"mark":{"type":"point","size":80,"strokeWidth":2,"opacity":1},
    "encoding":{"x":{"field":"x","type":"quantitative","axis":null},"y":{"field":"y","type":"quantitative","axis":null},"stroke":{"field":"exp","type":"nominal"},"fill":{"field":"exp","type":"nominal"},"shape":{"field":"exp","type":"nominal"}}},
   {"data":{"name":"lab"},"transform":[{"filter":"datum.p==8"}],"mark":{"type":"text","baseline":"middle","align":"center","font":"Liberation Serif"},
    "encoding":{"x":{"field":"x","type":"quantitative","axis":null},"y":{"field":"y","type":"quantitative","axis":null},"text":{"field":"t"},"color":{"field":"exp","type":"nominal","legend":null},"size":{"field":"kind","type":"ordinal","legend":null}}}
  ]},
  {"width":153,"height":153,"resolve":{"axis":{"x":"independent","y":"independent"}},"layer":[
   {"data":{"name":"band"},"transform":[{"filter":"datum.p==9"}],"mark":{"type":"area","color":"#22e6ee","opacity":1,"interpolate":"monotone"},
    "encoding":{"x":{"field":"x","type":"quantitative","scale":{"domain":[-5,0],"nice":false,"zero":false},"axis":{"orient":"bottom","values":[-5,-4,-3,-2,-1,0],"tickSize":-7,"labelPadding":12,"labelExpr":"toString(datum.value)","title":"log x","titleFontSize":26,"titleAnchor":"start","titlePadding":8}},
     "y":{"field":"lo","type":"quantitative","scale":{"domain":[0,0.8],"nice":false},"axis":{"orient":"left","values":[0,0.1,0.2,0.3,0.4,0.5,0.6,0.7,0.8],"labels":false,"tickSize":-5,"title":null}},
     "y2":{"field":"hi"}}},
   {"data":{"name":"band"},"transform":[{"filter":"datum.p==9"},{"aggregate":[{"op":"min","field":"x","as":"x"},{"op":"max","field":"hi","as":"hi"}]}],"mark":{"type":"bar","color":"#a8f4f7","width":1.2},
    "encoding":{"x":{"field":"x","type":"quantitative","axis":null},"y":{"field":"hi","type":"quantitative","axis":null}}},
   {"data":{"name":"pts"},"transform":[{"filter":"datum.p==9"}],"mark":{"type":"rule","strokeWidth":2},
    "encoding":{"x":{"field":"x","type":"quantitative","axis":{"orient":"top","values":[-4,-3,-2,-1],"labels":false,"tickSize":-7,"title":null}},"y":{"field":"lo","type":"quantitative","axis":{"orient":"right","values":[0,0.1,0.2,0.3,0.4,0.5,0.6,0.7,0.8],"labels":false,"tickSize":-5,"title":null}},"y2":{"field":"hi"},"stroke":{"field":"exp","type":"nominal"}}},
   {"data":{"name":"pts"},"transform":[{"filter":"datum.p==9"}],"mark":{"type":"point","size":80,"strokeWidth":2,"opacity":1},
    "encoding":{"x":{"field":"x","type":"quantitative","axis":null},"y":{"field":"y","type":"quantitative","axis":null},"stroke":{"field":"exp","type":"nominal"},"fill":{"field":"exp","type":"nominal"},"shape":{"field":"exp","type":"nominal"}}},
   {"data":{"name":"lab"},"transform":[{"filter":"datum.p==9"}],"mark":{"type":"text","baseline":"middle","align":"center","font":"Liberation Serif"},
    "encoding":{"x":{"field":"x","type":"quantitative","axis":null},"y":{"field":"y","type":"quantitative","axis":null},"text":{"field":"t"},"color":{"field":"exp","type":"nominal","legend":null},"size":{"field":"kind","type":"ordinal","legend":null}}}
  ]}
 ],
 "config": {
  "font": "Liberation Serif",
  "view": {"stroke": "black", "strokeWidth": 2},
  "axis": {"domain": false, "grid": false, "tickColor": "black", "tickWidth": 1.5, "labelFont": "Liberation Serif", "labelFontSize": 17, "labelColor": "black", "labelFlush": false, "labelOverlap": false, "labelPadding": 4, "titleFont": "Liberation Serif", "titleFontWeight": "normal", "titleColor": "black"},
  "legend": {"labelFont": "Liberation Serif", "labelFontSize": 17, "labelColor": "black"},
  "text": {"font": "Liberation Serif"}
 }
}
